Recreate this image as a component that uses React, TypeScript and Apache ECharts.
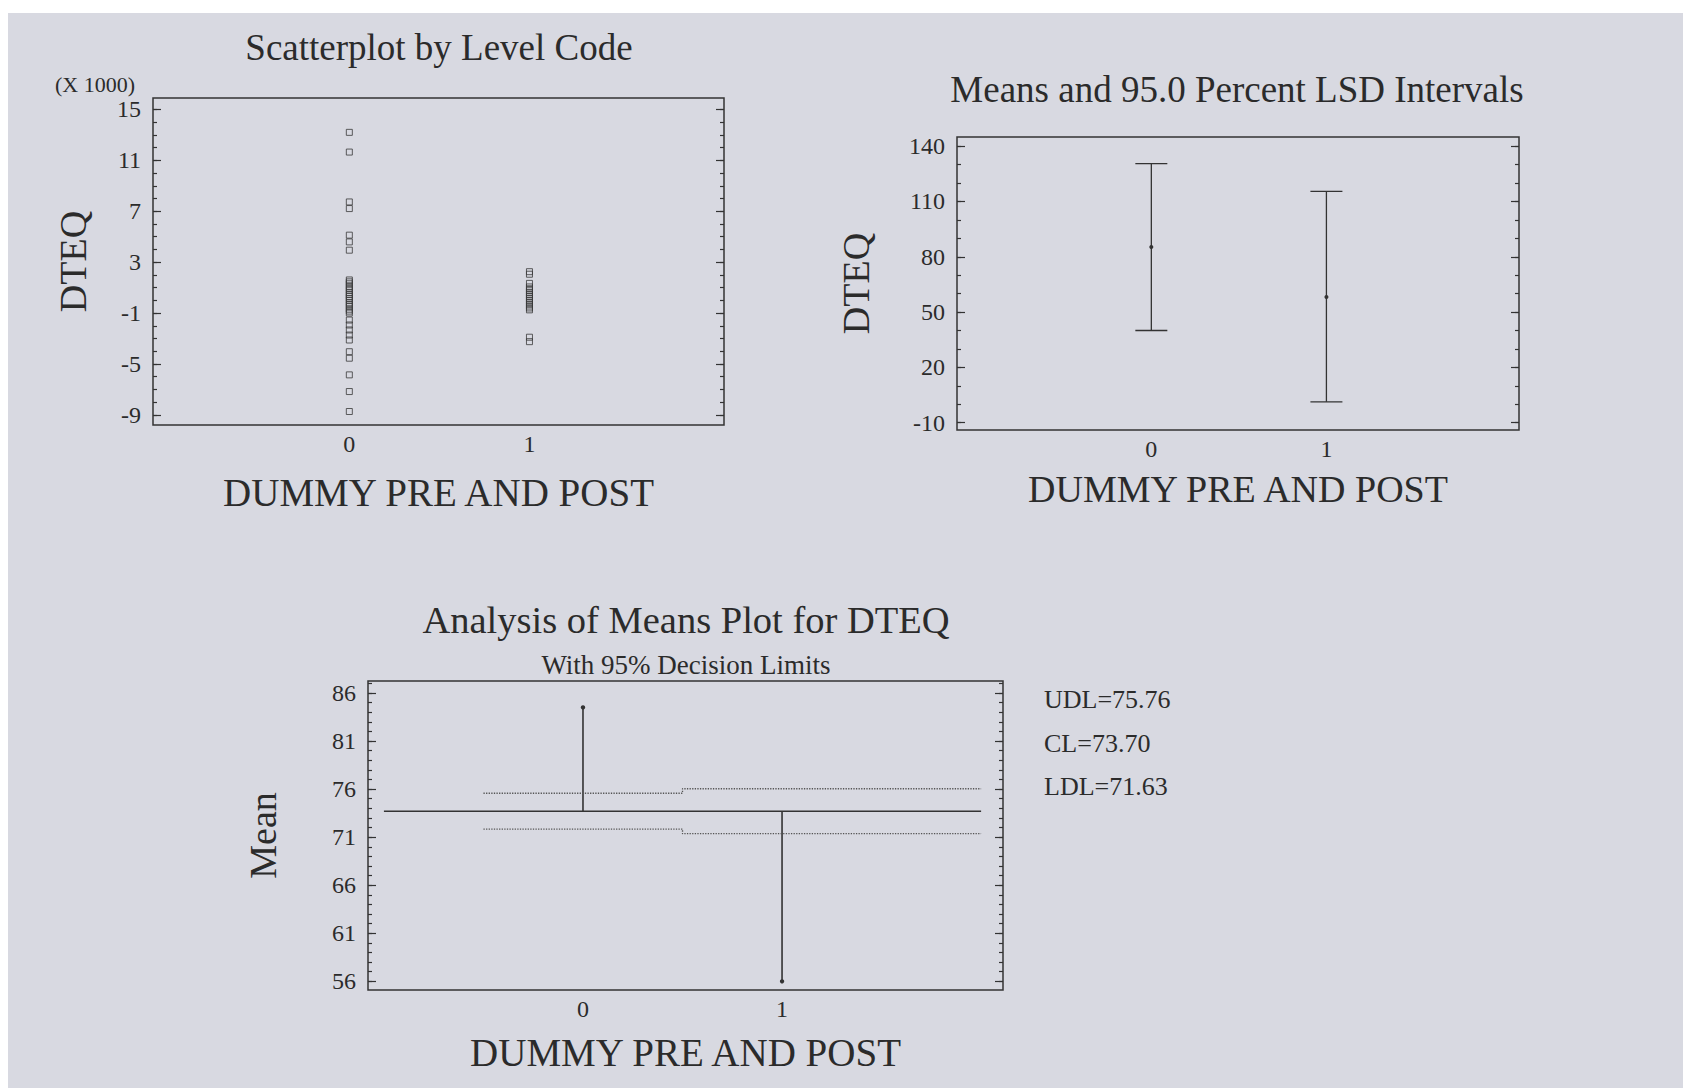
import React, { useEffect, useRef } from "react";
import * as echarts from "echarts";

// ---------- data ----------
const levelCodes = [0, 1];
// DTEQ (x 1000) for level code 0 (pre) and 1 (post)
const scatterPre = [13.2, 11.65, 7.73, 7.21, 5.12, 4.59, 3.94, 1.6, 1.45, 1.3, 1.1, 0.95, 0.8, 0.6, 0.45, 0.3, 0.15, 0.0, -0.2, -0.35, -0.5, -0.7, -0.85, -1.0, -1.55, -1.94, -2.33, -2.73, -3.12, -4.04, -4.55, -5.86, -7.17, -8.74];
const scatterPost = [2.25, 2.05, 1.33, 1.05, 0.9, 0.75, 0.6, 0.45, 0.3, 0.15, 0.0, -0.15, -0.3, -0.45, -0.6, -0.75, -2.9, -3.25];
const scatterTicks = [-9, -5, -1, 3, 7, 11, 15];

const lsdMeans = [85.3, 58.2];
const lsdLower = [40.0, 1.3];
const lsdUpper = [130.6, 115.5];
const lsdTicks = [-10, 20, 50, 80, 110, 140];

const aomMeans = [84.5, 56.0];
const aomCL = 73.7;
const aomUDL = [75.57, 76.04];
const aomLDL = [71.83, 71.36];
const aomLimitStart = [-0.5, 0.5];
const aomLimitEnd = [0.5, 2.0];
const aomCLRange = [-1, 2];
const aomTicks = [56, 61, 66, 71, 76, 81, 86];
const aomLimitLabels = ["UDL=75.76", "CL=73.70", "LDL=71.63"];

const xName = "DUMMY PRE AND POST";

// ---------- style ----------
const FONT = "'Liberation Serif', 'Times New Roman', serif";
const INK = "#2b2b2b";
const LINE = "#333";

function range(a: number, b: number, step: number) {
  const out: number[] = [];
  for (let v = a; v <= b + 1e-9; v += step) out.push(Math.round(v * 1000) / 1000);
  return out;
}

function yAxes(gridIndex: number, min: number, max: number, majors: number[], minors: number[], name: string, nameGap: number) {
  const tickStyle = { color: LINE, width: 1.2 };
  const base = {
    type: "value",
    gridIndex,
    min,
    max,
    axisLine: { show: false, onZero: false },
    splitLine: { show: false },
  };
  return [
    {
      ...base,
      position: "left",
      name,
      nameLocation: "middle",
      nameGap,
      nameRotate: 90,
      nameTextStyle: { fontSize: 38, fontFamily: FONT, color: INK },
      axisTick: { show: true, inside: true, length: 8, customValues: majors, lineStyle: tickStyle },
      axisLabel: { show: true, customValues: majors, margin: 12, fontSize: 24, fontFamily: FONT, color: INK },
    },
    {
      ...base,
      position: "left",
      axisTick: { show: true, inside: true, length: 4, customValues: minors, lineStyle: tickStyle },
      axisLabel: { show: false },
    },
    {
      ...base,
      position: "right",
      axisTick: { show: true, inside: true, length: 8, customValues: majors, lineStyle: tickStyle },
      axisLabel: { show: false },
    },
    {
      ...base,
      position: "right",
      axisTick: { show: true, inside: true, length: 4, customValues: minors, lineStyle: tickStyle },
      axisLabel: { show: false },
    },
  ];
}

function xAxis(gridIndex: number, min: number, max: number, nameGap: number, nameSize: number) {
  return {
    type: "value",
    gridIndex,
    min,
    max,
    position: "bottom",
    axisLine: { show: false, onZero: false },
    axisTick: { show: false },
    splitLine: { show: false },
    axisLabel: { customValues: levelCodes, margin: 7, fontSize: 24, fontFamily: FONT, color: INK },
    name: xName,
    nameLocation: "middle",
    nameGap,
    nameTextStyle: { fontSize: nameSize, fontFamily: FONT, color: INK },
  };
}

function text(x: number, y: number, t: string, size: number, align = "center") {
  return {
    type: "text",
    x,
    y,
    silent: true,
    style: {
      text: t,
      font: `${size}px ${FONT}`,
      fill: INK,
      textAlign: align,
      textVerticalAlign: "middle",
      align,
      verticalAlign: "middle",
    },
  };
}

export default function App() {
  const ref = useRef<HTMLDivElement>(null);

  useEffect(() => {
    if (!ref.current) return;
    const chart = echarts.init(ref.current, undefined, { renderer: "svg" });

    const gridBase = { show: true, borderColor: LINE, borderWidth: 1.5, backgroundColor: "transparent" };

    const lsdData = levelCodes.map((c, i) => [c, lsdLower[i], lsdUpper[i], lsdMeans[i]]);
    const aomData = levelCodes.map((c, i) => [c, aomMeans[i]]);

    const option: any = {
      animation: false,
      backgroundColor: "#d8d9e1",
      grid: [
        { ...gridBase, left: 153, top: 98, width: 571, height: 327 },
        { ...gridBase, left: 957, top: 137, width: 562, height: 293 },
        { ...gridBase, left: 368, top: 681, width: 635, height: 309 },
      ],
      xAxis: [xAxis(0, -1.09, 2.08, 48, 39), xAxis(1, -1.11, 2.1, 40, 38), xAxis(2, -1.08, 2.11, 43, 39)],
      yAxis: [
        ...yAxes(0, -9.8, 15.9, scatterTicks, range(-9, 15, 1), "DTEQ", 61),
        ...yAxes(1, -14, 145, lsdTicks, range(-10, 140, 10), "DTEQ", 82),
        ...yAxes(2, 55.1, 87.25, aomTicks, range(56, 87, 1), "Mean", 86),
      ],
      graphic: [
        { type: "rect", silent: true, shape: { x: 0, y: 0, width: 1683, height: 13 }, style: { fill: "#ffffff" } },
        { type: "rect", silent: true, shape: { x: 0, y: 0, width: 8, height: 1088 }, style: { fill: "#ffffff" } },
        text(439, 47, "Scatterplot by Level Code", 37),
        text(55, 84, "(X 1000)", 22, "left"),
        text(1237, 89, "Means and 95.0 Percent LSD Intervals", 37),
        text(686, 620, "Analysis of Means Plot for DTEQ", 38.5),
        text(686, 665, "With 95% Decision Limits", 27),
        text(1044, 699, aomLimitLabels[0], 26, "left"),
        text(1044, 743, aomLimitLabels[1], 26, "left"),
        text(1044, 786, aomLimitLabels[2], 26, "left"),
      ],
      series: [
        {
          type: "scatter",
          xAxisIndex: 0,
          yAxisIndex: 0,
          data: scatterPre.map((v) => [levelCodes[0], v]),
          symbol: "rect",
          symbolSize: 6,
          itemStyle: { color: "rgba(0,0,0,0)", borderColor: "#3a3a3a", borderWidth: 1 },
        },
        {
          type: "scatter",
          xAxisIndex: 0,
          yAxisIndex: 0,
          data: scatterPost.map((v) => [levelCodes[1], v]),
          symbol: "rect",
          symbolSize: 6,
          itemStyle: { color: "rgba(0,0,0,0)", borderColor: "#3a3a3a", borderWidth: 1 },
        },
        {
          type: "custom",
          xAxisIndex: 1,
          yAxisIndex: 4,
          data: lsdData,
          encode: { x: 0, y: [1, 2, 3] },
          renderItem: (params: any, api: any) => {
            const x = api.value(0);
            const lo = api.coord([x, api.value(1)]);
            const hi = api.coord([x, api.value(2)]);
            const mu = api.coord([x, api.value(3)]);
            const cap = 16;
            const st = { stroke: LINE, lineWidth: 1.3 };
            return {
              type: "group",
              children: [
                { type: "line", shape: { x1: lo[0], y1: lo[1], x2: hi[0], y2: hi[1] }, style: st },
                { type: "line", shape: { x1: hi[0] - cap, y1: hi[1], x2: hi[0] + cap, y2: hi[1] }, style: st },
                { type: "line", shape: { x1: lo[0] - cap, y1: lo[1], x2: lo[0] + cap, y2: lo[1] }, style: st },
                { type: "circle", shape: { cx: mu[0], cy: mu[1], r: 2 }, style: { fill: LINE } },
              ],
            };
          },
        },
        {
          type: "line",
          xAxisIndex: 2,
          yAxisIndex: 8,
          data: [[aomCLRange[0], aomCL], [aomCLRange[1], aomCL]],
          symbol: "none",
          lineStyle: { color: LINE, width: 1.6 },
        },
        {
          type: "line",
          xAxisIndex: 2,
          yAxisIndex: 8,
          data: [
            [aomLimitStart[0], aomUDL[0]],
            [aomLimitEnd[0], aomUDL[0]],
            [aomLimitStart[1], aomUDL[1]],
            [aomLimitEnd[1], aomUDL[1]],
          ],
          symbol: "none",
          lineStyle: { color: "#555", width: 1.3, type: "dotted" },
        },
        {
          type: "line",
          xAxisIndex: 2,
          yAxisIndex: 8,
          data: [
            [aomLimitStart[0], aomLDL[0]],
            [aomLimitEnd[0], aomLDL[0]],
            [aomLimitStart[1], aomLDL[1]],
            [aomLimitEnd[1], aomLDL[1]],
          ],
          symbol: "none",
          lineStyle: { color: "#555", width: 1.3, type: "dotted" },
        },
        {
          type: "custom",
          xAxisIndex: 2,
          yAxisIndex: 8,
          data: aomData,
          encode: { x: 0, y: 1 },
          renderItem: (params: any, api: any) => {
            const x = api.value(0);
            const base = api.coord([x, aomCL]);
            const top = api.coord([x, api.value(1)]);
            return {
              type: "group",
              children: [
                { type: "line", shape: { x1: base[0], y1: base[1], x2: top[0], y2: top[1] }, style: { stroke: LINE, lineWidth: 1.6 } },
                { type: "circle", shape: { cx: top[0], cy: top[1], r: 2.2 }, style: { fill: LINE } },
              ],
            };
          },
        },
      ],
    };

    chart.setOption(option);
    return () => chart.dispose();
  }, []);

  return (
    <div
      ref={ref}
      style={{ position: "absolute", left: 0, top: 0, width: 1683, height: 1088 }}
    />
  );
}
